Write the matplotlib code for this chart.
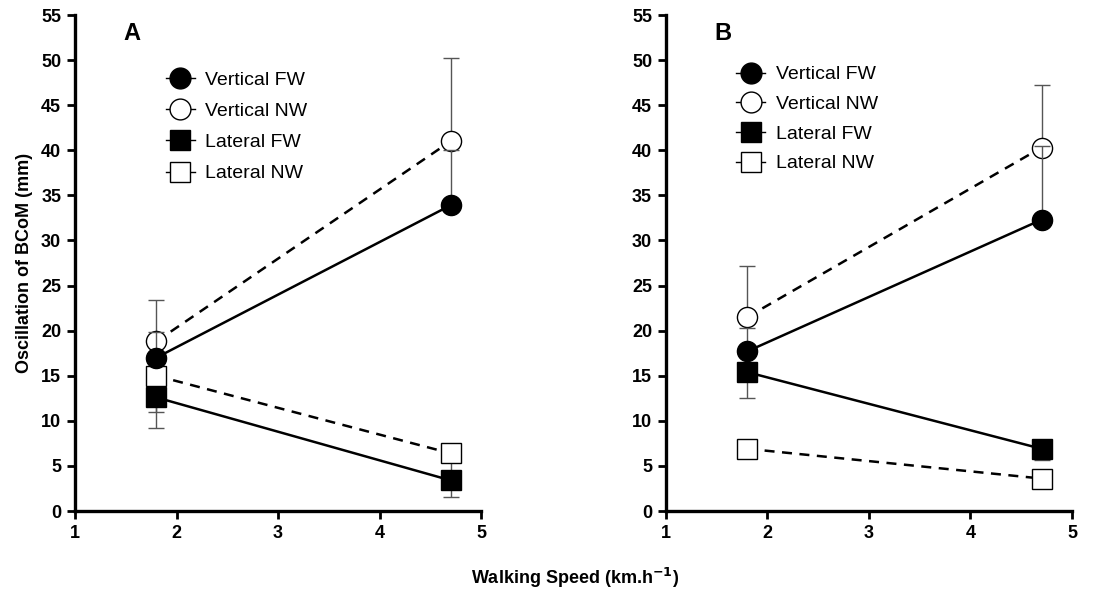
import matplotlib
matplotlib.use('Agg')
import matplotlib.pyplot as plt
from matplotlib.lines import Line2D

plt.rcParams['font.family'] = ['Liberation Sans', 'DejaVu Sans']
plt.rcParams['font.weight'] = 'bold'

# walking speeds (km/h)
speeds = [1.8, 4.7]

# panel A
a_vert_fw = [17.0, 33.9]
a_vert_fw_err = [2.8, 6.1]
a_vert_nw = [18.8, 41.0]
a_vert_nw_err = [4.6, 9.2]
a_lat_fw = [12.6, 3.4]
a_lat_fw_err = [3.4, 1.8]
a_lat_nw = [15.0, 6.4]
a_lat_nw_err = [4.0, 2.0]

# panel B
b_vert_fw = [17.7, 32.3]
b_vert_fw_err = [2.6, 8.2]
b_vert_nw = [21.5, 40.3]
b_vert_nw_err = [5.7, 6.9]
b_lat_fw = [15.4, 6.9]
b_lat_fw_err = [2.9, 1.2]
b_lat_nw = [6.9, 3.6]
b_lat_nw_err = [0.5, 0.5]

labels = ['Vertical FW', 'Vertical NW', 'Lateral FW', 'Lateral NW']
x_ticks = [1, 2, 3, 4, 5]
y_ticks = list(range(0, 56, 5))


def draw_series(ax, y, err, up, marker, filled, ls, z):
    fc = 'black' if filled else 'white'
    yerr = [[0, 0], err] if up else [err, [0, 0]]
    ax.errorbar(speeds, y, yerr=yerr, fmt='none', ecolor='#555555',
                elinewidth=1, capsize=6, capthick=1, zorder=z, clip_on=False)
    ax.plot(speeds, y, color='black', ls=ls, lw=1.8, zorder=z + 1,
            dashes=(4, 3) if ls == '--' else (None, None), clip_on=False)
    ax.plot(speeds, y, ls='none', marker=marker, ms=14.5 if marker == 'o' else 14,
            mfc=fc, mec='black', mew=1, zorder=z + 2, clip_on=False)


def panel(ax, vf, vfe, vn, vne, lf, lfe, ln, lne, letter, leg_pos, spacing):
    draw_series(ax, vn, vne, True, 'o', False, '--', 3)
    draw_series(ax, vf, vfe, True, 'o', True, '-', 6)
    draw_series(ax, ln, lne, False, 's', False, '--', 3)
    draw_series(ax, lf, lfe, False, 's', True, '-', 6)

    ax.set_xlim(1, 5)
    ax.set_ylim(0, 55)
    ax.set_xticks(x_ticks)
    ax.set_yticks(y_ticks)
    for s in ['top', 'right']:
        ax.spines[s].set_visible(False)
    for s in ['left', 'bottom']:
        ax.spines[s].set_linewidth(2.4)
    ax.tick_params(width=2, length=6, labelsize=13, pad=4)
    for t in ax.get_xticklabels() + ax.get_yticklabels():
        t.set_fontweight('bold')

    ax.text(0.12, 0.985, letter, transform=ax.transAxes, fontsize=17,
            fontweight='bold', va='top', ha='left')

    handles = [
        Line2D([], [], color='black', lw=1, marker='o', ms=15, mfc='black', mec='black'),
        Line2D([], [], color='black', lw=1, marker='o', ms=15, mfc='white', mec='black'),
        Line2D([], [], color='black', lw=1, marker='s', ms=14, mfc='black', mec='black'),
        Line2D([], [], color='black', lw=1, marker='s', ms=14, mfc='white', mec='black'),
    ]
    ax.legend(handles, labels, loc='upper left', bbox_to_anchor=leg_pos,
              frameon=False, handlelength=1.5, handletextpad=0.55,
              labelspacing=spacing, prop={'size': 14, 'weight': 'normal'})


fig = plt.figure(figsize=(11.15, 5.96), dpi=100)
ax1 = fig.add_axes([0.0673, 0.1426, 0.3641, 0.8322])
ax2 = fig.add_axes([0.5973, 0.1426, 0.3641, 0.8322])

panel(ax1, a_vert_fw, a_vert_fw_err, a_vert_nw, a_vert_nw_err,
      a_lat_fw, a_lat_fw_err, a_lat_nw, a_lat_nw_err, 'A', (0.18, 0.922), 0.7)
panel(ax2, b_vert_fw, b_vert_fw_err, b_vert_nw, b_vert_nw_err,
      b_lat_fw, b_lat_fw_err, b_lat_nw, b_lat_nw_err, 'B', (0.13, 0.933), 0.62)

ax1.set_ylabel('Oscillation of BCoM (mm)', fontsize=13, fontweight='bold', labelpad=6)
fig.text(0.516, 0.03, 'Walking Speed (km.h$^{\\mathbf{-1}}$)', ha='center', va='center',
         fontsize=13, fontweight='bold')

fig.savefig('out.png', dpi=100)
